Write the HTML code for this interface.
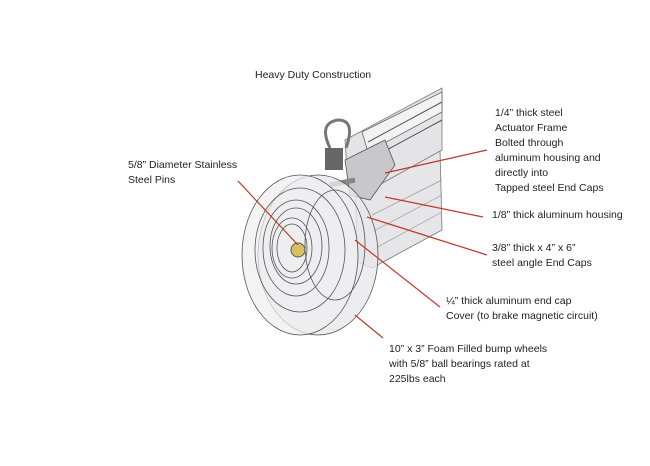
<!DOCTYPE html>
<html><head><style>
body{margin:0;background:#fff;width:650px;height:466px;overflow:hidden;position:relative;font-family:"Liberation Sans",sans-serif;}
.t{position:absolute;font-size:10.5px;line-height:15px;color:#222;white-space:nowrap;}
svg{position:absolute;left:0;top:0}
</style></head><body>
<svg width="650" height="466" viewBox="0 0 650 466">
<!-- lower housing -->
<polygon points="355,190 440,150 442,230 372,268 358,262" fill="#e6e6e8" stroke="#777" stroke-width="0.8"/>
<line x1="372" y1="215" x2="442" y2="180" stroke="#999" stroke-width="0.7"/>
<line x1="372" y1="232" x2="442" y2="195" stroke="#999" stroke-width="0.7"/>
<line x1="372" y1="250" x2="442" y2="212" stroke="#999" stroke-width="0.7"/>
<!-- upper tube -->
<polygon points="345,140 442,88 442,150 370,190 348,185" fill="#e4e4e6" stroke="#777" stroke-width="0.8"/>
<polygon points="362,132 442,92 442,112 368,152" fill="#f3f3f3" stroke="#666" stroke-width="0.8"/>
<line x1="368" y1="142" x2="442" y2="102" stroke="#555"/>
<line x1="372" y1="158" x2="442" y2="120" stroke="#555"/>
<polygon points="345,160 385,140 395,165 370,200 350,195" fill="#c8c8cc" stroke="#555" stroke-width="0.8"/>
<path d="M330,148 q-12,-25 8,-28 q18,0 8,28" fill="none" stroke="#777" stroke-width="3"/>
<rect x="325" y="148" width="18" height="22" fill="#666"/>
<line x1="330" y1="185" x2="355" y2="180" stroke="#888" stroke-width="5"/>
<!-- wheels -->
<g fill="none" stroke="#555" stroke-width="0.8">
<ellipse cx="318" cy="255" rx="60" ry="80" fill="#e8e8ec" fill-opacity="0.8"/>
<ellipse cx="300" cy="255" rx="58" ry="80" fill="#eeeef0" fill-opacity="0.7"/>
<ellipse cx="300" cy="250" rx="45" ry="62"/>
<ellipse cx="296" cy="248" rx="33" ry="48"/>
<ellipse cx="296" cy="246" rx="26" ry="38"/>
<ellipse cx="292" cy="248" rx="20" ry="30"/>
<ellipse cx="292" cy="248" rx="15" ry="24"/>
<ellipse cx="335" cy="245" rx="30" ry="55"/>
</g>
<circle cx="298" cy="250" r="7" fill="#d8c060" stroke="#555"/>
<!-- leaders -->
<g stroke="#c0392b" stroke-width="1.2">
<line x1="238" y1="181" x2="298" y2="245"/>
<line x1="487" y1="150" x2="385" y2="173"/>
<line x1="483" y1="217" x2="385" y2="197"/>
<line x1="487" y1="255" x2="367" y2="217"/>
<line x1="440" y1="307" x2="355" y2="240"/>
<line x1="383" y1="338" x2="355" y2="315"/>
</g>
</svg>
<div class="t" style="left:255px;top:68px">Heavy Duty Construction</div>
<div class="t" style="left:128px;top:158px">5/8” Diameter Stainless<br>Steel Pins</div>
<div class="t" style="left:495px;top:106px">1/4” thick steel<br>Actuator Frame<br>Bolted through<br>aluminum housing and<br>directly into<br>Tapped steel End Caps</div>
<div class="t" style="left:492px;top:208px">1/8” thick aluminum housing</div>
<div class="t" style="left:492px;top:241px">3/8” thick x 4” x 6”<br>steel angle End Caps</div>
<div class="t" style="left:446px;top:294px">¼” thick aluminum end cap<br>Cover (to brake magnetic circuit)</div>
<div class="t" style="left:389px;top:342px">10” x 3” Foam Filled bump wheels<br>with 5/8” ball bearings rated at<br>225lbs each</div>
</body></html>
